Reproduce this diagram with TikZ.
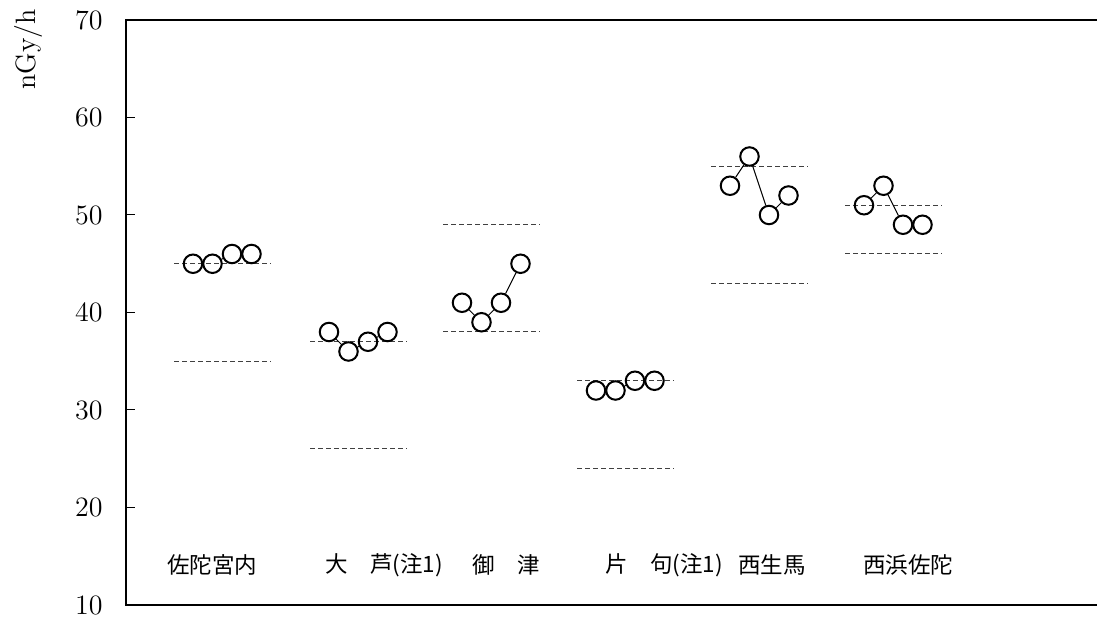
\documentclass[tikz,border=0pt]{standalone}
\usepackage{fontspec}
\newfontfamily\jpfont{Noto Sans CJK JP}
\usepackage{tikz}

\tikzset{
  dose/.style={circle,draw,line width=1pt,minimum size=9.25pt,inner sep=0pt},
  bandline/.style={line width=0.5pt,black!75,dash pattern=on 2.5pt off 1.5pt},
  site/.style={anchor=west,font=\jpfont\fontsize{11.25}{13}\selectfont}
}

\begin{document}
\begin{tikzpicture}[x=0.5pt,y=4.875pt,font=\fontsize{14}{16}\selectfont]
  \useasboundingbox (0,8.564) rectangle (1097,72.051);
  \draw[line width=1pt] (1097,70) -- (126,70) -- (126,10) -- (1097,10);
  \foreach \v in {20,30,...,60}
    \draw[line width=0.5pt] (126,\v) -- (135,\v);
  \foreach \v in {10,20,...,70}
    \node[anchor=east,inner sep=0pt] (tick\v) at (103,\v) {\v};
  \node[rotate=90] (unit) at (28,67.0) {nGy/h};
  \foreach \g/\s/\a/\b/\c/\d/\hi/\lo in {
      1/174/45/45/46/46/45/35,
      2/310/38/36/37/38/37/26,
      3/443/41/39/41/45/49/38,
      4/577/32/32/33/33/33/24,
      5/711/53/56/50/52/55/43,
      6/845/51/53/49/49/51/46}
  {
    \draw[bandline] (\s,\hi) -- ({\s+97},\hi);
    \draw[bandline] (\s,\lo) -- ({\s+97},\lo);
    \node[dose] (g\g-1) at ({\s+19},\a) {};
    \node[dose] (g\g-2) at ({\s+38.5},\b) {};
    \node[dose] (g\g-3) at ({\s+58},\c) {};
    \node[dose] (g\g-4) at ({\s+77.5},\d) {};
    \draw[line width=0.5pt] (g\g-1) -- (g\g-2) -- (g\g-3) -- (g\g-4);
  }
  \node[site] (sada)    at (160,14.1) {佐陀宮内};
  \node[site] (oashi)   at (318,14.1) {大　芦(注1)};
  \node[site] (mitsu)   at (465,14.1) {御　津};
  \node[site] (katakku) at (598,14.1) {片　句(注1)};
  \node[site] (nishiiku) at (731,14.1) {西生馬};
  \node[site] (nishihama) at (856,14.1) {西浜佐陀};
\end{tikzpicture}
\end{document}
